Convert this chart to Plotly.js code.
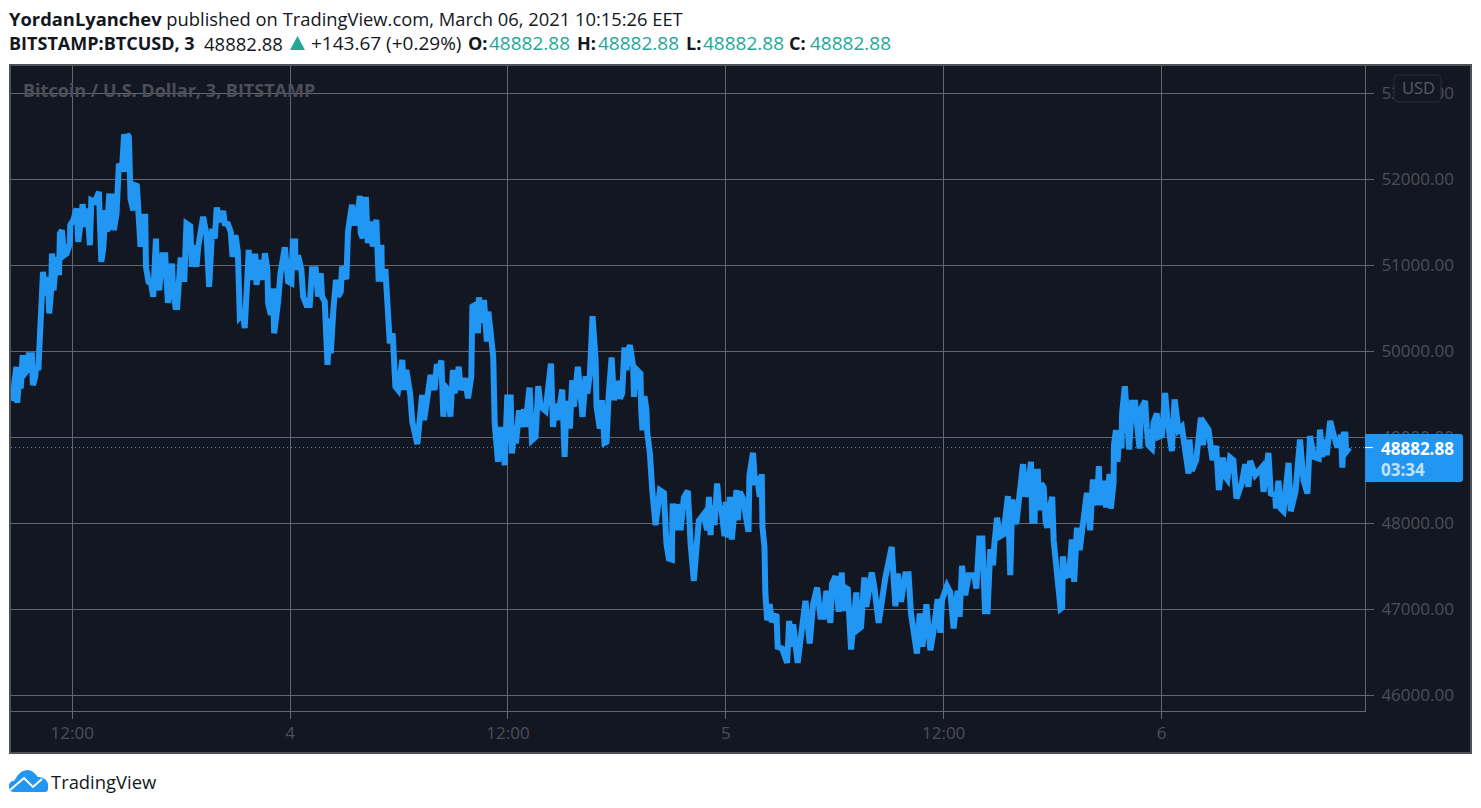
<!DOCTYPE html>
<html>
<head>
<meta charset="utf-8">
<script src="https://cdn.plot.ly/plotly-3.0.1.min.js"></script>
<style>
html, body { margin: 0; padding: 0; background: #fff; }
#chart { width: 1481px; height: 808px; }
.js-line { stroke-miterlimit: 3 !important; }
</style>
</head>
<body>
<div id="chart"></div>
<script>
// hours counted from March 3rd 00:00
var hours = [
8.65,8.73,8.92,8.97,9.08,9.16,9.27,9.38,9.52,9.60,9.78,9.83,9.96,10.00,10.13,10.22,10.28,10.31,10.39,10.50,
10.59,10.66,10.73,10.84,10.88,10.97,11.08,11.14,11.27,11.32,11.43,11.56,11.69,11.87,11.89,12.06,12.24,12.33,12.48,12.57,
12.72,12.84,12.97,13.05,13.25,13.47,13.60,13.71,13.84,13.91,14.04,14.13,14.18,14.29,14.44,14.57,14.73,14.86,14.92,15.03,
15.12,15.21,15.36,15.45,15.56,15.62,15.76,15.85,16.02,16.06,16.20,16.35,16.46,16.61,16.68,16.79,16.97,17.12,17.19,17.27,
17.49,17.56,17.69,17.78,17.96,18.11,18.17,18.29,18.50,18.59,18.70,18.84,18.94,19.21,19.40,19.54,19.71,19.85,19.96,20.13,
20.31,20.40,20.58,20.73,20.83,20.99,21.12,21.23,
21.41,21.50,21.63,21.72,21.80,21.96,22.09,22.15,22.33,22.50,22.61,22.75,22.79,22.94,23.06,23.12,23.34,23.47,23.71,23.89,
24.07,24.15,24.28,24.29,24.44,24.62,24.72,24.90,25.08,25.21,25.41,25.54,25.69,25.76,25.91,26.06,26.18,26.24,26.39,26.53,
26.64,26.79,26.86,27.10,27.19,27.41,27.52,27.67,27.84,27.89,28.00,28.04,28.18,28.28,28.44,28.55,28.75,28.88,29.03,29.06,
29.25,29.39,29.49,29.65,29.69,29.80,29.95,30.18,30.28,30.40,30.61,30.73,31.01,31.14,31.27,31.38,31.60,31.74,31.96,32.07,
32.24,32.33,32.44,32.55,32.70,32.83,32.97,33.06,33.29,33.40,33.62,33.80,33.98,34.04,34.20,34.35,34.40,34.57,34.68,34.84,
34.92,35.08,35.19,35.27,35.36,35.45,
35.60,35.74,35.82,35.96,36.15,36.22,36.37,36.44,36.61,36.70,36.88,36.95,37.19,37.32,37.52,37.67,37.80,38.07,38.37,38.48,
38.62,38.72,38.99,39.12,39.23,39.41,39.54,39.63,39.85,39.96,40.11,40.28,40.37,40.51,40.59,40.66,40.83,40.88,41.06,41.17,
41.32,41.43,41.54,41.71,41.84,42.02,42.17,42.29,42.42,42.53,42.61,42.72,42.90,42.94,43.08,43.30,43.34,43.41,43.52,43.63,
43.67,43.82,43.95,44.13,44.26,44.37,44.59,44.73,44.86,45.03,45.07,45.18,45.32,45.51,45.69,45.91,46.06,46.24,46.42,46.51,
46.79,46.97,47.07,
47.16,47.23,47.38,47.52,47.63,47.76,47.93,48.00,48.11,48.22,48.33,48.59,48.66,48.77,48.99,49.08,49.25,49.30,49.50,49.61,
49.72,49.87,49.98,50.02,50.13,50.18,50.28,50.42,50.53,50.79,50.86,51.10,51.38,51.49,51.60,51.71,51.96,52.11,52.39,52.62,
52.81,53.03,53.21,53.39,53.54,53.76,53.85,54.04,54.22,54.39,54.46,54.57,54.72,54.90,55.19,55.27,55.45,55.63,55.74,56.04,
56.18,56.42,56.51,56.79,57.14,57.34,57.47,57.65,57.89,58.07,58.20,58.35,58.53,58.68,58.83,59.05,59.27,
59.45,59.67,59.82,59.91,60.18,60.37,60.55,60.77,60.88,61.01,61.19,61.38,61.69,61.80,61.96,62.13,62.28,62.42,62.57,62.72,
62.79,62.94,63.12,63.30,63.54,63.67,63.78,64.00,64.15,64.22,64.37,64.51,64.66,64.81,64.88,65.01,65.06,65.19,65.27,65.38,
65.51,65.62,65.71,65.85,65.98,66.06,66.20,66.31,66.44,66.53,66.57,66.68,66.81,66.90,67.06,67.19,67.34,67.49,67.67,67.74,
67.89,68.07,68.22,68.44,68.55,68.62,68.81,68.95,69.14,69.21,69.36,
69.38,69.49,69.58,69.69,69.80,69.83,69.98,70.09,70.22,70.37,70.55,70.64,70.79,70.86,71.10,71.19,71.28,71.47,71.56,71.74,
71.83,72.02,72.20,72.33,72.57,72.72,72.94,73.12,73.30,73.49,73.54,73.67,73.91,74.17,74.28,74.39,74.59,74.81,75.01,75.08,
75.16,75.38,75.50,75.63,75.78,75.96,76.13,76.42,76.61,76.79,76.88,77.16,77.52,77.62,77.89,78.02,78.26,78.31,78.44,78.57,
78.72,79.00,79.12,79.38,79.63,79.82,80.04,80.18,80.40,80.66,80.73,80.86,81.01,81.10,81.29,81.47,81.65,81.84,81.89,81.96,
82.04,82.13,82.17,82.35
];

// BTC/USD close at those hours
var closes = [
49426,49492,49822,49403,49705,49570,49957,49744,49783,49957,49957,49609,49705,49841,49783,50171,50364,50597,50926,50655,
50791,50868,50442,50713,51140,50713,50985,51101,50888,51372,51411,51120,51140,51256,51469,51527,51663,51275,51527,51713,
51450,51663,51236,51760,51740,51857,51043,51198,51643,51391,51837,51411,51837,51411,51605,52186,52089,52527,52089,52527,
52496,51779,51643,51934,51926,51643,51217,51566,51566,50985,50810,50791,50636,51314,50829,50713,51120,51120,50578,50566,
51023,50713,50519,50519,51062,51062,50810,51488,51457,50985,51236,50985,51217,51566,51353,50752,51430,51314,51674,51508,
51636,51488,51481,51391,51101,51353,51159,50403,
50445,50271,50794,51182,50833,51105,51105,50775,51066,50833,51144,50950,50562,50426,50736,50212,50581,50911,51213,50814,
50794,51279,51279,50950,51116,50950,50639,50542,50542,50957,50957,50639,50911,50639,50581,49844,50387,49980,50503,50833,
50639,50697,50988,50841,51396,51706,51493,51493,51811,51376,51318,51764,51764,51260,51512,51221,51532,50814,51241,50814,
50957,50329,50096,50212,49941,49592,49553,49902,49553,49786,49514,49184,48924,49204,49495,49204,49514,49727,49553,49824,
49824,49894,49242,49592,49553,49242,49786,49514,49824,49553,49689,49456,49708,50523,50542,50212,50631,50329,50600,50115,
50465,50135,49941,49165,48854,48719,
49124,48930,48678,49465,49465,48814,49143,48930,49318,49124,49329,49124,49581,48969,49008,49597,49357,49310,49860,49124,
49395,49202,49558,48775,49426,49105,49667,49357,49822,49609,49240,49713,49512,49725,50411,50411,49899,49357,49105,49434,
48938,48950,49465,49930,49434,49659,49453,49512,50047,49783,49996,50074,49822,49473,49791,49744,49318,49085,49481,49318,
49066,48814,48388,47981,48194,48388,48357,47767,47593,47581,48233,47922,48225,47922,48302,48380,47767,47333,47806,48031,
48109,47922,48310,
47864,48213,47981,48465,48213,48155,47853,48252,47837,48310,47814,48388,48039,48368,48271,48116,47903,48562,48822,48446,
48550,48310,48574,47961,47729,47186,46876,47062,46857,46946,46566,46547,46380,46868,46566,46829,46380,46636,47101,46605,
47062,47256,46915,46915,47217,46845,47295,47388,46973,47430,46984,47256,47236,46535,47198,46767,46798,47372,47031,47430,
47264,46845,46984,47372,47729,47039,47419,47089,47411,47411,46953,46760,46488,46953,46566,47062,46527,
46760,47120,46729,47109,47275,47198,46779,47217,46915,47508,47167,47399,47399,47244,47826,47826,46981,46981,47702,47515,
47748,48066,47853,47876,48318,47399,48279,47992,48279,48465,48690,48310,48446,48717,48031,48031,48601,48601,48155,48465,
48419,48019,47953,48186,48310,47806,47496,47147,47008,47023,47620,47360,47527,47372,47814,47322,47953,47690,47969,48186,
48357,47922,48512,48213,48667,48213,48496,48186,48574,48174,48473,
48911,49085,48717,49085,48872,49279,49597,49240,48860,49403,49403,49182,48872,49326,49426,49105,48911,48872,49171,49279,
49008,49027,49519,49202,48841,49442,49085,49124,48860,48581,48977,48612,48736,49233,48911,49155,49093,48736,48903,48698,
48388,48767,48550,48512,48767,48736,48291,48465,48690,48426,48729,48562,48651,48368,48822,48349,48329,48174,48496,48174,
48143,48705,48143,48368,48977,48504,48349,49016,48775,48756,49093,48775,48977,48795,49194,49039,48911,48911,49035,48651,
49035,49035,48833,48882.88
];

var priceTicks = [46000, 47000, 48000, 49000, 50000, 51000, 52000, 53000];
var timeTicks = [12, 24, 36, 48, 60, 72];
var timeLabels = ['12:00', '4', '12:00', '5', '12:00', '6'];
var lastPrice = 48882.88;
var countdown = '03:34';

var FONT = '"Open Sans", "Noto Sans", sans-serif';
var TEAL = '#26a69a';
var BLUE = '#2196f3';
var GRID = '#63656f';
var FAINT = '#4c4e59';
var INK = '#131722';

// plot box in window pixels
var L = 11, T = 66, W = 1354, H = 645;
function px(x) { return (x - L) / W; }
function py(y) { return (T + H - y) / H; }

// annotations sit 2px inside their box, so pull them back
function label(x, y, text, size, color, anchor) {
    return {
        xref: 'paper', yref: 'paper', x: px(x - 2), y: py(y),
        xanchor: anchor || 'left', yanchor: 'middle',
        text: text, showarrow: false, align: 'left',
        font: {family: FONT, size: size, color: color}
    };
}

// a path in pixels, measured from the lower left point given
function pixelPath(x, y, path, fill, line) {
    return {
        type: 'path', xref: 'paper', yref: 'paper', xsizemode: 'pixel', ysizemode: 'pixel',
        xanchor: px(x), yanchor: py(y), layer: 'above',
        path: path, fillcolor: fill, line: line || {width: 0}
    };
}

var traces = [{
    x: hours,
    y: closes,
    type: 'scatter',
    mode: 'lines',
    line: {color: BLUE, width: 6},
    hoverinfo: 'skip',
    showlegend: false
}];

var layout = {
    width: 1481,
    height: 808,
    margin: {l: L, t: T, r: 1481 - L - W, b: 808 - T - H, pad: 0},
    paper_bgcolor: '#ffffff',
    plot_bgcolor: INK,
    showlegend: false,
    xaxis: {
        range: [8.626, 83.21],
        tickmode: 'array',
        tickvals: timeTicks,
        ticktext: timeLabels,
        showgrid: true,
        gridcolor: GRID,
        gridwidth: 1,
        zeroline: false,
        showline: true,
        linecolor: GRID,
        linewidth: 1,
        ticks: 'outside',
        ticklen: 7,
        tickcolor: GRID,
        tickfont: {family: FONT, size: 17, color: FAINT}
    },
    yaxis: {
        side: 'right',
        range: [45820, 53320],
        tickmode: 'array',
        tickvals: priceTicks,
        tickformat: '.2f',
        showgrid: true,
        gridcolor: GRID,
        gridwidth: 1,
        zeroline: false,
        showline: true,
        linecolor: GRID,
        linewidth: 1,
        ticks: 'outside',
        ticklen: 8,
        tickcolor: GRID,
        ticklabelstandoff: 4,
        tickfont: {family: FONT, size: 17, color: FAINT}
    },
    shapes: [
        // dark frame around plot and axis strips
        {type: 'rect', xref: 'paper', yref: 'paper', layer: 'below',
         x0: px(10), x1: px(1471), y0: py(753), y1: py(65),
         fillcolor: INK, line: {color: '#4e505a', width: 2}},
        // last price line
        {type: 'line', xref: 'paper', yref: 'y', layer: 'below',
         x0: 0, x1: 1, y0: lastPrice, y1: lastPrice,
         line: {color: BLUE, width: 1, dash: '1px,3px'}},
        // last price tag, rounded on the right
        pixelPath(1365, 482, 'M 0 0 L 95 0 Q 98 0 98 3 L 98 45 Q 98 48 95 48 L 0 48 Z', BLUE),
        {type: 'line', xref: 'paper', yref: 'y', layer: 'above',
         x0: px(1365), x1: px(1373), y0: lastPrice, y1: lastPrice,
         line: {color: '#ffffff', width: 1}},
        // USD button
        pixelPath(1394, 102, 'M 5 0 L 42 0 Q 47 0 47 5 L 47 22 Q 47 27 42 27 L 5 27 Q 0 27 0 22 L 0 5 Q 0 0 5 0 Z', INK,
            {color: '#2a2e39', width: 1}),
        // triangle in the header
        pixelPath(290, 50, 'M 0 0 L 15 0 L 7.5 14 Z', TEAL),
        // TradingView cloud
        pixelPath(9, 792, 'M 5 0 C 1 0 0 3 0 6 C 0 9 2 11 5 11 C 7 13 9 21 18 22 C 24 22 27 17 29 15 C 33 15 38 13 39 8 L 39 3 C 39 1 38 0 36 0 Z', BLUE),
        pixelPath(9, 792, 'M 1 2 L 15 14 L 24 5 L 33 13', 'rgba(0,0,0,0)', {color: '#ffffff', width: 2})
    ],
    annotations: [
        label(9, 18, '<b>YordanLyanchev</b> published on TradingView.com, March 06, 2021 10:15:26 EET', 18.35, INK),
        label(9, 43, '<b>BITSTAMP:BTCUSD, 3</b>', 18, INK),
        label(204, 43, '48882.88', 18.5, INK),
        label(311, 43, '+143.67 (+0.29%)', 19, INK),
        label(468, 43, '<b>O:</b>', 18, INK),
        label(489, 43, '48882.88', 19, TEAL),
        label(577, 43, '<b>H:</b>', 18, INK),
        label(598, 43, '48882.88', 19, TEAL),
        label(686, 43, '<b>L:</b>', 18, INK),
        label(703, 43, '48882.88', 19, TEAL),
        label(789, 43, '<b>C:</b>', 18, INK),
        label(810, 43, '48882.88', 19, TEAL),
        label(23, 90, '<b>Bitcoin / U.S. Dollar, 3, BITSTAMP</b>', 18, FAINT),
        label(1402, 88, 'USD', 16.5, '#585a65'),
        label(1381, 448.5, '<b>48882.88</b>', 17, '#ffffff'),
        label(1381, 469, '<b>' + countdown + '</b>', 17, '#c3e2fb'),
        label(51, 781, 'TradingView', 18.4, INK)
    ]
};

Plotly.newPlot('chart', traces, layout, {displayModeBar: false, staticPlot: true});
</script>
</body>
</html>
